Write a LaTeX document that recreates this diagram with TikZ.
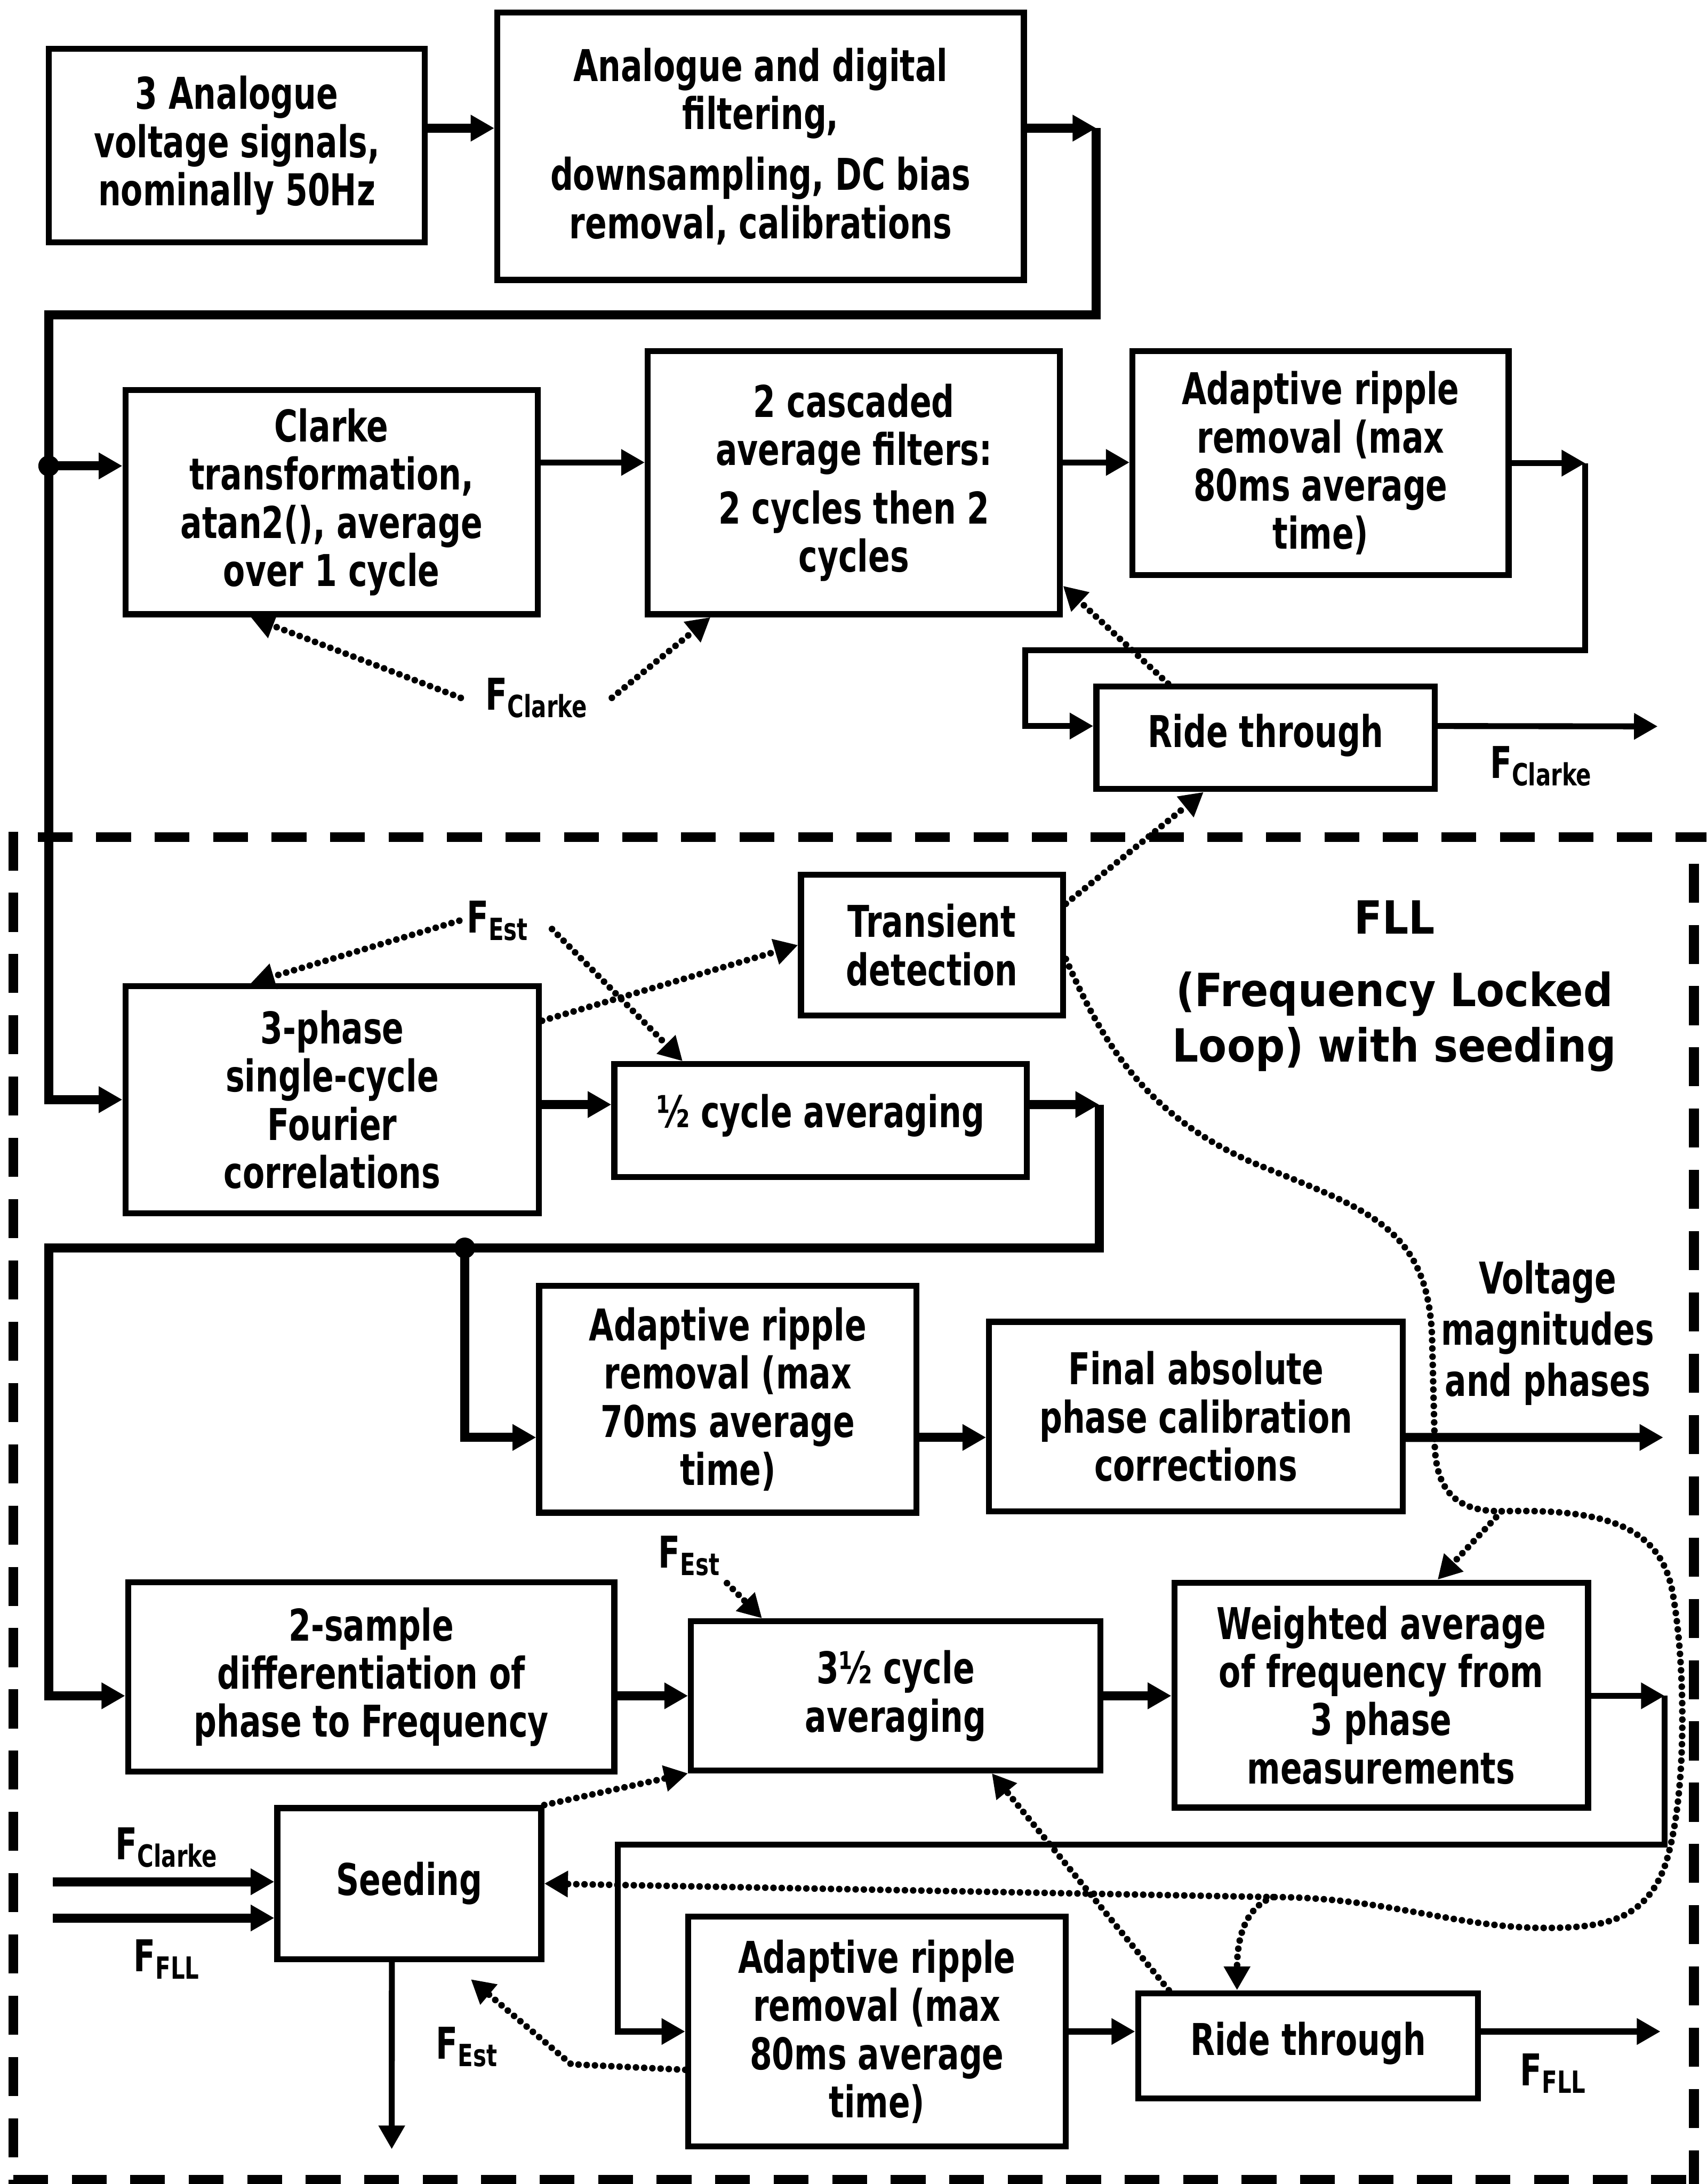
\documentclass[tikz,border=0pt]{standalone}
\usepackage{fontspec}
\setmainfont{DejaVu Sans}[FakeStretch=0.73]
\newfontfamily\fllfont{DejaVu Sans}[FakeStretch=0.9]
\usepackage{tikz}
\usetikzlibrary{arrows.meta}
\newcommand{\Fsub}[1]{F\raisebox{-3pt}{\fontsize{12.5}{12.5}\selectfont #1}}

\begin{document}
\begin{tikzpicture}[
            x = 0.02cm, y = -0.02cm, % one unit = one pixel of the sketch
            > = {Triangle[length=0.34cm, width=0.36cm]}, % arrow head style
            every node/.style={font=\bfseries\fontsize{17.9}{19.7}\selectfont}
            ,
            line join = miter % sharp corners on the bus lines
        ]

        \tikzstyle{block}=[
            draw = black,
            line width = 0.086cm,
            fill = white,
            align = center,
            inner sep = 0pt
        ]
        \tikzstyle{bus}=[line width = 0.13cm]
        \tikzstyle{wire}=[line width = 0.085cm]
        \tikzstyle{hint}=[line width = 0.095cm, dash pattern = on 0pt off 0.118cm, line cap = round]
        \tikzstyle{fence}=[line width = 0.14cm]
        \tikzstyle{flabel}=[inner sep = 0.1cm]

        \useasboundingbox (0,0) rectangle (1225,1568);

        % FLL frame
        \draw[fence, dash pattern=on 0.5cm off 0.34cm] (27,601) -- (1225,601);
        \draw[fence, dash pattern=on 0.56cm off 0.32cm] (9.5,597) -- (9.5,1568);
        \draw[fence, dash pattern=on 0.56cm off 0.32cm] (1216,620) -- (1216,1568);
        \draw[fence, dash pattern=on 0.5cm off 0.34cm] (9.5,1565) -- (1225,1565);

        \node[block, minimum width=5.4cm, minimum height=2.78cm] (sig) at (170,104.5) {3 Analogue\\voltage signals,\\nominally 50Hz};
        \node[block, minimum width=7.56cm, minimum height=3.84cm] (filt) at (546,105) {Analogue and digital\\filtering,\\[0.18cm]downsampling, DC bias\\removal, calibrations};
        \node[block, minimum width=5.92cm, minimum height=3.22cm] (clarke) at (238,360.5) {Clarke\\transformation,\\atan2(), average\\over 1 cycle};
        \node[block, minimum width=5.92cm, minimum height=3.78cm] (casc) at (613,346.5) {2 cascaded\\average filters:\\[0.15cm]2 cycles then 2\\cycles};
        \node[block, minimum width=5.4cm, minimum height=3.22cm] (ripA) at (948,332.5) {Adaptive ripple\\removal (max\\80ms average\\time)};
        \node[block, minimum width=4.86cm, text height=0.87cm, text depth=0.6cm] (rideA) at (908.5,529.75) {Ride through};
        \node[block, minimum width=3.76cm, minimum height=2.02cm] (trans) at (669,678.5) {Transient\\detection};
        \node[block, minimum width=5.94cm, minimum height=3.26cm] (fourier) at (238.5,789.5) {3-phase\\single-cycle\\Fourier\\correlations};
        \node[block, minimum width=5.92cm, text height=0.91cm, text depth=0.71cm] (half) at (589,804.5) {½ cycle averaging};
        \node[block, minimum width=5.42cm, minimum height=3.26cm] (ripB) at (522.5,1004.5) {Adaptive ripple\\removal (max\\70ms average\\time)};
        \node[block, minimum width=5.94cm, minimum height=2.72cm] (calib) at (858.5,1017) {Final absolute\\phase calibration\\corrections};
        \node[block, minimum width=6.98cm, minimum height=2.72cm] (diff) at (266.5,1204) {2-sample\\differentiation of\\phase to Frequency};
        \node[block, minimum width=5.88cm, minimum height=2.14cm] (avg) at (643,1217.5) {3½ cycle\\averaging};
        \node[block, minimum width=5.94cm, minimum height=3.23cm] (wavg) at (991.5,1217) {Weighted average\\of frequency from\\3 phase\\measurements};
        \node[block, minimum width=3.79cm, text height=1.25cm, text depth=0.92cm] (seed) at (293.8,1352.3) {Seeding};
        \node[block, minimum width=5.42cm, minimum height=3.3cm] (ripC) at (629.5,1458.5) {Adaptive ripple\\removal (max\\80ms average\\time)};
        \node[block, minimum width=4.88cm, text height=0.89cm, text depth=0.62cm] (rideB) at (939,1468.75) {Ride through};

        \node[flabel] (fclA) at (385,501) {\Fsub{Clarke}};
        \node[flabel] (fclB) at (1106,550) {\Fsub{Clarke}};
        \node[flabel] (festA) at (357,661) {\Fsub{Est}};
        \node[flabel] (festB) at (494.6,1117) {\Fsub{Est}};
        \node[flabel] (fclC) at (119.4,1326.5) {\Fsub{Clarke}};
        \node[flabel] (ffllA) at (119.4,1406.6) {\Fsub{FLL}};
        \node[flabel] (festC) at (335,1469.6) {\Fsub{Est}};
        \node[flabel] (ffllB) at (1114.7,1488.5) {\Fsub{FLL}};
        \node[align=center, font=\bfseries\fontsize{17.9}{21}\selectfont] (volt) at (1111,957) {Voltage\\magnitudes\\and phases};
        \node[align=center, font=\fllfont\bfseries\fontsize{18.7}{22.7}\selectfont] (fll) at (1001,708) {FLL\\[0.24cm](Frequency Locked\\Loop) with seeding};

        \coordinate (busA) at (787,92);
        \coordinate (busB) at (35,226);
        \coordinate (loopA) at (1138,332.5);
        \coordinate (loopB) at (736,467);
        \coordinate (busC) at (789,793);
        \coordinate (busD) at (35,896);
        \coordinate (tapB) at (333.6,896);
        \coordinate (loopC) at (1195,1217.5);
        \coordinate (loopD) at (443.5,1324.4);
        \coordinate (outA) at (1190,521.5);
        \coordinate (outV) at (1194,1032);
        \coordinate (outB) at (1192,1458.5);
        \coordinate (inC) at (38,1351);
        \coordinate (inF) at (38,1377);
        \coordinate (seedout) at (281.2,1543);
        \coordinate (split) at (1078,1085);
        \coordinate (splitB) at (914,1362);
        \coordinate (fbend) at (410,1482);
        \coordinate (festtip) at (338,1421);

        % top chain
        \coordinate (sigR) at ([yshift=0.25cm]sig.east);
        \draw[bus,->] (sigR) -- (sigR -| filt.west);
        \coordinate (filtR) at ([yshift=0.26cm]filt.east);
        \draw[bus,->] (filtR) -- (busA);
        \draw[bus,->] (busA) |- (busB) |- (fourier.west);
        \coordinate (clarkeL) at ([yshift=0.52cm]clarke.west);
        \draw[bus,->] (busB |- clarkeL) -- (clarkeL);
        \fill (busB |- clarkeL) circle (0.15cm);

        \coordinate (clarkeR) at ([yshift=0.57cm]clarke.east);
        \draw[wire,->] (clarkeR) -- (clarkeR -| casc.west);
        \coordinate (cascR) at ([yshift=0.29cm]casc.east);
        \draw[wire,->] (cascR) -- (cascR -| ripA.west);
        \draw[wire,->] (ripA.east) -- (loopA);
        \coordinate (rideAL) at ([yshift=0.17cm]rideA.west);
        \draw[wire,->] (loopA) |- (loopB) |- (rideAL);
        \draw[wire,->] (rideAL -| rideA.east) -- (outA);

        % FLL chain
        \coordinate (fourierR) at ([yshift=-0.07cm]fourier.east);
        \draw[bus,->] (fourierR) -- (fourierR -| half.west);
        \coordinate (halfR) at ([yshift=0.23cm]half.east);
        \draw[bus,->] (halfR) -- (busC);
        \coordinate (diffL) at ([yshift=-0.27cm]diff.west);
        \draw[bus,->] (busC) |- (busD) |- (diffL);
        \coordinate (ripBL) at ([yshift=-0.55cm]ripB.west);
        \draw[bus,->] (tapB) |- (ripBL);
        \fill (tapB) circle (0.15cm);
        \draw[bus,->] (ripBL -| ripB.east) -- (ripBL -| calib.west);
        \draw[bus,->] (ripBL -| calib.east) -- (outV);
        \draw[bus,->] (diffL -| diff.east) -- (avg.west);
        \draw[bus,->] (avg.east) -- (avg.east -| wavg.west);
        \draw[wire,->] (avg.east -| wavg.east) -- (loopC);
        \draw[wire,->] (loopC) |- (loopD) |- (ripC.west);
        \draw[wire,->] (ripC.east) -- (ripC.east -| rideB.west);
        \draw[wire,->] (ripC.east -| rideB.east) -- (outB);
        \draw[bus,->] (inC) -- (inC -| seed.west);
        \draw[bus,->] (inF) -- (inF -| seed.west);
        \draw[wire,->] ([xshift=-0.25cm]seed.south) -- (seedout);

        % estimates and hints
        \draw[hint,->] ([xshift=-0.25cm]fclA.west) -- ([xshift=-1.16cm]clarke.south);
        \draw[hint,->] ([xshift=0.25cm]fclA.east) -- ([xshift=-2.06cm]casc.south);
        \draw[hint,->] ([xshift=-1.4cm]rideA.north) -- ([yshift=0.45cm]casc.south east);
        \draw[hint,->] (festA.west) -- ([xshift=-1.17cm]fourier.north);
        \draw[hint,->] ([xshift=0.24cm,yshift=-0.12cm]festA.east) -- ([xshift=-1.98cm]half.north);
        \draw[hint,->] ([yshift=-0.54cm]fourier.north east) -- (trans.west);
        \draw[hint,->] ([yshift=-0.46cm]trans.north east) -- ([xshift=-0.89cm]rideA.south);
        \draw[hint] ([yshift=-0.2cm]trans.east) .. controls (790,745) and (820,800) .. (900,835) .. controls (980,868) and (1025,880) .. (1028,960) -- (1030,1040) .. controls (1032,1075) and (1050,1085) .. (split);
        \draw[hint,->] (split) -- ([xshift=0.81cm]wavg.north);
        \draw[hint,->] (split) .. controls (1150,1083) and (1190,1095) .. (1200,1140) .. controls (1210,1190) and (1212,1290) .. (1195,1340) .. controls (1180,1380) and (1150,1385) .. (1100,1384) .. controls (1040,1382) and (990,1362) .. (splitB) -- (seed.east);
        \draw[hint,->] (splitB) .. controls (892,1370) and (888,1395) .. ([xshift=-1.02cm]rideB.north);
        \draw[hint,->] (festB.south east) -- ([xshift=-1.92cm]avg.north);
        \draw[hint,->] (seed.north east) -- (avg.south west);
        \draw[hint,->] ([xshift=-2cm]rideB.north) -- ([xshift=1.38cm]avg.south);
        \draw[hint,->] ([yshift=-0.55cm]ripC.west) -- (fbend) -- (festtip);

\end{tikzpicture}
\end{document}
